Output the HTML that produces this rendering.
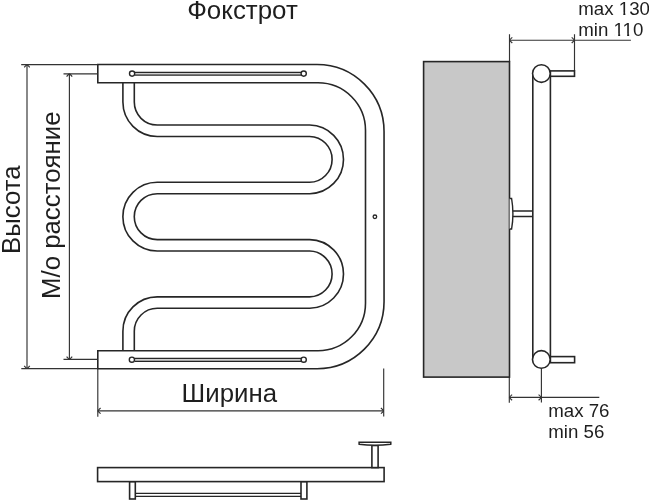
<!DOCTYPE html>
<html><head><meta charset="utf-8">
<style>
html,body{margin:0;padding:0;background:#fff;width:649px;height:500px;overflow:hidden}
svg{display:block;will-change:transform}
text{font-family:"Liberation Sans",sans-serif;fill:#1e1e1e}
</style></head><body>
<svg width="649" height="500" viewBox="0 0 649 500">
<rect x="0" y="0" width="649" height="500" fill="#fff"/>
<text x="187.2" y="18.7" font-size="25.9">Фокстрот</text>

<g fill="none" stroke="#262626" stroke-width="1.6">
  <path d="M128.60 83.00 V102.12 A28.63 28.63 0 0 0 157.23 130.75 H309.70 A28.63 28.63 0 0 1 309.70 188.00 H157.23 A28.63 28.63 0 0 0 157.23 245.30 H309.70 A28.63 28.63 0 0 1 309.70 302.55 H157.23 A28.63 28.63 0 0 0 128.60 331.18 V350.70" stroke-width="13.00"/>
  <path d="M128.60 80.00 V102.12 A28.63 28.63 0 0 0 157.23 130.75 H309.70 A28.63 28.63 0 0 1 309.70 188.00 H157.23 A28.63 28.63 0 0 0 157.23 245.30 H309.70 A28.63 28.63 0 0 1 309.70 302.55 H157.23 A28.63 28.63 0 0 0 128.60 331.18 V354.00" stroke="#fff" stroke-width="9.80"/>
  <path d="M97.8 64.5 H317 A67 67 0 0 1 384.05 131.5 V301.8 A67 67 0 0 1 317 368.7 H97.8 V350.7 H318 A47.5 47.5 0 0 0 365.5 303.2 V130.3 A47.5 47.5 0 0 0 318 82.8 H97.8 Z"/>
  <path d="M134.8 72.3 H301 V75.1 H134.8 Z M134.8 358.3 H301 V361.3 H134.8 Z" fill="#cfcfcf" stroke="none"/>
  <path d="M134.8 72.3 H301 M134.8 75.1 H301 M134.8 358.3 H301 M134.8 361.3 H301" stroke-width="1.3"/>
  <circle cx="132.1" cy="73.6" r="2.6" fill="#fff" stroke-width="1.4"/>
  <circle cx="303.7" cy="73.6" r="2.6" fill="#fff" stroke-width="1.4"/>
  <circle cx="131.9" cy="359.7" r="2.6" fill="#fff" stroke-width="1.4"/>
  <circle cx="303.7" cy="359.7" r="2.6" fill="#fff" stroke-width="1.4"/>
  <circle cx="374.9" cy="216.8" r="1.8" stroke-width="1.3"/>
</g>

<g fill="none" stroke="#333" stroke-width="1.15">
  <path d="M21.2 64.6 H97.8 M27.0 64.6 V368.6 M63.5 73.8 H97.8 M69.4 73.8 V359.4 M63.5 359.4 H97.8 M21.3 368.6 H97.8"/>
  <path d="M97.8 368.8 V416.7 M383.7 368.6 V416.6 M97.8 410.8 H383.7"/>
  <path d="M509.5 34.3 V62 M574.5 34.3 V71 M509.5 40.2 H630.9"/>
  <path d="M509.3 377 V402.8 M541.4 367.8 V402.4 M509.3 397.4 H599.3"/>
  <path d="M29.80 67.40 Q28.45 65.85 27.00 64.60 M24.20 67.40 Q25.55 65.85 27.00 64.60 M24.20 365.80 Q25.55 367.35 27.00 368.60 M29.80 365.80 Q28.45 367.35 27.00 368.60 M72.20 76.60 Q70.85 75.05 69.40 73.80 M66.60 76.60 Q67.95 75.05 69.40 73.80 M66.60 356.60 Q67.95 358.15 69.40 359.40 M72.20 356.60 Q70.85 358.15 69.40 359.40 M100.60 408.00 Q99.05 409.35 97.80 410.80 M100.60 413.60 Q99.05 412.25 97.80 410.80 M380.90 413.60 Q382.45 412.25 383.70 410.80 M380.90 408.00 Q382.45 409.35 383.70 410.80 M512.30 37.40 Q510.75 38.75 509.50 40.20 M512.30 43.00 Q510.75 41.65 509.50 40.20 M571.70 43.00 Q573.25 41.65 574.50 40.20 M571.70 37.40 Q573.25 38.75 574.50 40.20 M512.10 394.60 Q510.55 395.95 509.30 397.40 M512.10 400.20 Q510.55 398.85 509.30 397.40 M538.60 400.20 Q540.15 398.85 541.40 397.40 M538.60 394.60 Q540.15 395.95 541.40 397.40" stroke-width="1.2"/>
</g>

<text transform="translate(19.6 254) rotate(-90)" font-size="25.8">Высота</text>
<text transform="translate(59.6 299) rotate(-90)" font-size="25.8">М/о расстояние</text>
<text x="181.6" y="401.8" font-size="25.8">Ширина</text>

<rect x="423.6" y="61.6" width="85.9" height="315.5" fill="#c8c8c8" stroke="#262626" stroke-width="1.6"/>
<g fill="none" stroke="#262626" stroke-width="1.6">
  <path d="M532.8 73.6 V359.1 M550.4 73.6 V359.1"/>
  <rect x="550.4" y="70.9" width="24.1" height="5.4" fill="#fff"/>
  <rect x="550.4" y="356.6" width="24.2" height="6.1" fill="#fff"/>
  <circle cx="541.4" cy="73.55" r="8.85" fill="#fff"/>
  <circle cx="541.35" cy="359.45" r="8.85" fill="#fff"/>
  <path d="M512.8 211 H532.8 M512.8 216.5 H532.8"/>
  <path d="M509.6 198.5 H511.6 A90 90 0 0 1 511.6 229 H509.6" fill="#fff" stroke-width="1.4"/>
</g>
<text x="578.3" y="14.7" font-size="18.7">max 130</text>
<text x="578.3" y="35.7" font-size="18.7">min 110</text>
<rect x="619.58" y="12.50" width="3.75" height="3.8" fill="#fff"/><rect x="625.33" y="12.50" width="3.6" height="3.8" fill="#fff"/><rect x="614.40" y="33.50" width="3.75" height="3.8" fill="#fff"/><rect x="620.15" y="33.50" width="3.6" height="3.8" fill="#fff"/><rect x="623.40" y="33.50" width="3.75" height="3.8" fill="#fff"/><rect x="629.15" y="33.50" width="3.6" height="3.8" fill="#fff"/>
<text x="548.2" y="417.2" font-size="18.7">max 76</text>
<text x="548.2" y="437.9" font-size="18.7">min 56</text>

<g fill="none" stroke="#262626" stroke-width="1.6">
  <path d="M135.3 493.3 H301 M135.3 496.4 H301" stroke-width="1.3"/>
  <rect x="129.6" y="481.6" width="5.7" height="17.4" fill="#fff"/>
  <rect x="301" y="481.6" width="5.9" height="17.4" fill="#fff"/>
  <rect x="97.6" y="467.6" width="286.5" height="14" fill="#fff"/>
  <rect x="371.9" y="445.5" width="6.2" height="22.1" fill="#fff"/>
  <path d="M359.1 442.3 H390.8 V444.2 A115 115 0 0 1 359.1 444.2 Z" fill="#fff" stroke-width="1.5"/>
</g>
</svg>
</body></html>
